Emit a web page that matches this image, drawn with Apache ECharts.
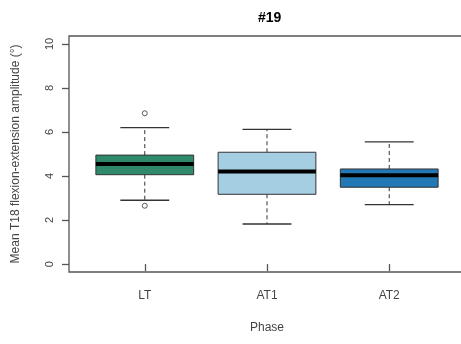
<!DOCTYPE html>
<html>
<head>
<meta charset="utf-8">
<script src="https://cdn.jsdelivr.net/npm/echarts@6/dist/echarts.min.js"></script>
<style>
  html, body { margin: 0; padding: 0; background: #fff; }
  #chart { width: 461px; height: 344px; }
</style>
</head>
<body>
<div id="chart"></div>
<script>
// phases and their box stats (whisker low, Q1, median, Q3, whisker high)
var phases = ["LT", "AT1", "AT2"];
var whiskLow = [2.9, 1.82, 2.7];
var q1 = [4.06, 3.17, 3.49];
var median = [4.55, 4.2, 4.03];
var q3 = [4.95, 5.08, 4.32];
var whiskHigh = [6.2, 6.12, 5.55];
var boxColors = ["#2f8a6b", "#a6cee3", "#2278b5"];
// outliers: [phase index, value]
var outliers = [[0, 6.85], [0, 2.65]];
var yTicks = [0, 2, 4, 6, 8, 10];

var chart = echarts.init(document.getElementById("chart"));

var boxData = phases.map(function (p, i) {
  return [i + 1, whiskLow[i], q1[i], median[i], q3[i], whiskHigh[i]];
});

function renderBox(params, api) {
  var x = api.value(0);
  var idx = params.dataIndex;
  var half = api.size([0.4, 0])[0];
  var cap = half / 2;
  var pLow = api.coord([x, api.value(1)]);
  var pQ1 = api.coord([x, api.value(2)]);
  var pMed = api.coord([x, api.value(3)]);
  var pQ3 = api.coord([x, api.value(4)]);
  var pHigh = api.coord([x, api.value(5)]);
  var cx = pMed[0];
  var dash = { stroke: "#333", lineWidth: 1, lineDash: [4, 3] };
  var solid = { stroke: "#333", lineWidth: 1.3 };
  return {
    type: "group",
    children: [
      { type: "line", shape: { x1: cx, y1: pQ3[1], x2: cx, y2: pHigh[1] }, style: dash },
      { type: "line", shape: { x1: cx, y1: pQ1[1], x2: cx, y2: pLow[1] }, style: dash },
      { type: "line", shape: { x1: cx - cap, y1: pHigh[1], x2: cx + cap, y2: pHigh[1] }, style: solid },
      { type: "line", shape: { x1: cx - cap, y1: pLow[1], x2: cx + cap, y2: pLow[1] }, style: solid },
      {
        type: "rect",
        shape: { x: cx - half, y: pQ3[1], width: half * 2, height: pQ1[1] - pQ3[1] },
        style: { fill: boxColors[idx], stroke: "#333", lineWidth: 1 }
      },
      { type: "line", shape: { x1: cx - half, y1: pMed[1], x2: cx + half, y2: pMed[1] }, style: { stroke: "#000", lineWidth: 4 } }
    ]
  };
}

var font = "Liberation Sans";

var option = {
  animation: false,
  title: {
    text: "#19",
    left: 253,
    top: 6,
    textStyle: { fontFamily: font, fontSize: 14, fontWeight: "bold", color: "#000" }
  },
  grid: {
    left: 69,
    right: -4,
    top: 36,
    bottom: 72,
    outerBoundsMode: "none",
    show: true,
    borderColor: "#555",
    borderWidth: 1.3
  },
  xAxis: {
    type: "value",
    min: 0.38,
    max: 3.62,
    name: "Phase",
    nameLocation: "middle",
    nameGap: 50,
    nameTextStyle: { fontFamily: font, fontSize: 12, color: "#444" },
    axisLine: { show: false },
    splitLine: { show: false },
    axisTick: {
      show: true,
      length: 7,
      customValues: [1, 2, 3],
      lineStyle: { color: "#555", width: 1.3 }
    },
    axisLabel: {
      customValues: [1, 2, 3],
      margin: 18,
      fontFamily: font,
      fontSize: 12,
      color: "#444",
      formatter: function (v) { return phases[Math.round(v) - 1]; }
    }
  },
  yAxis: {
    type: "value",
    min: -0.36,
    max: 10.36,
    name: "Mean T18 flexion-extension amplitude (°)",
    nameLocation: "middle",
    nameRotate: 90,
    nameGap: 47,
    nameTextStyle: { fontFamily: font, fontSize: 12, color: "#444" },
    axisLine: { show: false },
    splitLine: { show: false },
    axisTick: {
      show: true,
      length: 7,
      customValues: yTicks,
      lineStyle: { color: "#555", width: 1.3 }
    },
    axisLabel: {
      customValues: yTicks,
      rotate: 90,
      margin: 14,
      fontFamily: font,
      fontSize: 11,
      color: "#444"
    }
  },
  series: [
    {
      type: "custom",
      renderItem: renderBox,
      encode: { x: 0, y: [1, 2, 3, 4, 5] },
      data: boxData,
      z: 2
    },
    {
      type: "scatter",
      symbol: "circle",
      symbolSize: 5,
      itemStyle: { color: "#fff", borderColor: "#333", borderWidth: 1 },
      data: outliers.map(function (o) { return [o[0] + 1, o[1]]; }),
      z: 3
    }
  ]
};

chart.setOption(option);
</script>
</body>
</html>
